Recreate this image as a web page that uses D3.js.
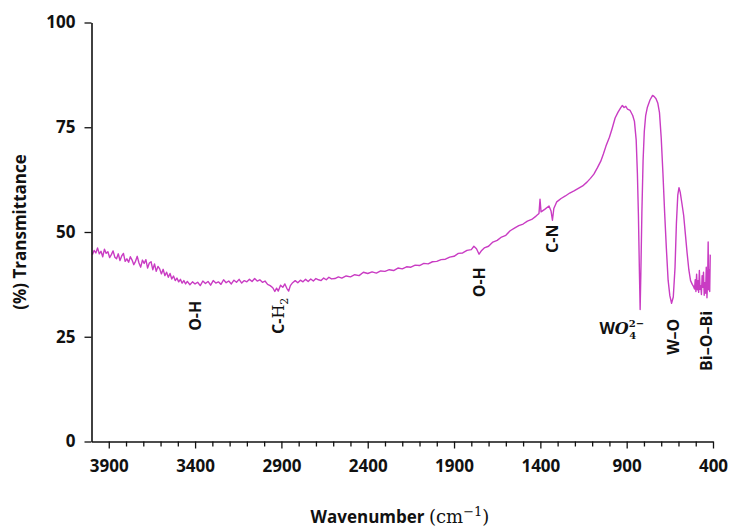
<!DOCTYPE html>
<html>
<head>
<meta charset="utf-8">
<script src="https://cdn.jsdelivr.net/npm/d3@7"></script>
<style>
  html, body { margin: 0; padding: 0; background: #fff; }
  svg { display: block; }
  text { font-family: "Open Sans", Lato, sans-serif; font-weight: bold; fill: #111; }
</style>
</head>
<body>
<svg id="chart" width="732" height="527"></svg>
<script>
// ---- data ----
const wavenumbers = [
  3995,3985,3975,3965,3955,3945,3935,3925,3915,3905,3895,3885,3875,3865,3855,3845,3835,3825,3815,3805,
  3795,3785,3775,3765,3755,3745,3735,3725,3715,3705,3695,3685,3675,3665,3655,3645,3635,3625,3615,3605,
  3595,3585,3575,3565,3555,3545,3535,3525,3515,3505,3495,3485,3475,3465,3455,3445,
  3430,3415,3400,3385,3370,3355,3340,3325,3310,3295,3280,3265,3250,3235,3220,3205,3190,3175,3160,3145,
  3130,3115,3100,3085,3070,3055,3040,3025,3010,2995,2980,2965,2950,2938,2928,2918,2905,2892,2880,2868,
  2858,2848,2835,2820,2805,2790,2775,2760,2745,2730,2715,2700,2685,2670,2655,2640,2625,2610,
  2590,2570,2550,2525,2500,2475,2450,2425,
  2400,2375,2350,2325,2300,2275,2250,2225,2200,2175,2150,2125,2100,2075,2050,2025,2000,1975,1950,1925,
  1900,1875,1850,1825,1800,1785,1770,1755,1740,1725,1700,1675,1650,1625,1600,1575,1550,1525,1500,1475,
  1450,1425,1408,1402,1396,1375,1350,1338,1330,1322,1305,1280,1255,1230,1205,1180,1155,1130,1110,1090,
  1070,1050,1035,1020,1000,985,967,950,935,925,915,905,895,880,865,855,845,838,832,826,
  822,818,812,805,798,790,780,765,750,740,730,720,710,700,690,680,670,660,650,640,
  630,620,612,604,597,590,580,570,560,550,540,530,520,513,
  507,503,499,495,491,487,483,479,475,471,467,463,459,455,451,447,443,439,435,431,
  428,425,422,419,416
];
const transmittance = [
  44.6,45.6,45.0,46.2,44.8,45.4,44.1,45.9,44.9,45.3,43.9,44.6,45.5,44.0,43.6,44.8,43.2,44.3,44.9,43.0,
  43.6,42.8,44.1,43.3,42.2,43.0,44.2,42.6,41.6,43.3,42.5,43.4,41.4,42.6,42.9,41.0,42.4,40.6,41.8,41.2,
  40.0,41.1,39.6,40.4,39.2,40.1,38.8,39.5,38.4,39.0,38.1,38.7,37.8,38.4,37.6,38.2,
  37.4,38.1,37.6,38.0,37.2,38.3,37.7,38.2,37.3,38.4,37.8,38.1,37.5,38.6,37.9,38.3,37.6,38.5,38.0,38.7,
  37.8,38.4,38.1,38.7,38.2,38.9,38.3,38.6,38.0,38.3,37.5,37.2,36.7,35.8,36.6,35.9,37.3,36.8,37.6,36.5,
  35.9,37.2,37.9,38.4,37.9,38.5,38.1,38.7,38.2,38.8,38.3,38.9,38.6,38.4,39.0,38.6,39.2,38.8,
  38.9,39.3,39.0,39.5,39.3,39.8,39.6,40.4,
  40.1,40.5,40.2,40.7,40.6,41.0,40.8,41.4,41.2,41.7,41.6,42.1,42.0,42.5,42.4,42.9,43.0,43.4,43.5,44.0,
  44.2,44.9,45.0,45.6,45.8,46.6,46.0,44.7,45.6,46.2,46.6,47.6,48.0,48.8,49.2,50.3,50.9,51.5,51.9,52.6,
  53.0,53.8,54.4,57.8,54.8,55.4,56.2,55.0,52.8,55.6,57.2,58.0,58.6,59.3,59.8,60.4,61.0,61.9,62.8,63.8,
  65.3,66.9,68.6,70.5,72.6,74.6,77.2,78.6,79.6,80.2,79.7,80.0,79.3,79.0,77.8,76.4,72.0,64.0,54.0,40.0,
  31.5,40.0,54.5,67.0,74.0,77.8,79.8,81.5,82.6,82.3,81.8,80.8,78.5,72.5,64.0,54.5,46.0,38.5,34.8,33.0,
  34.5,41.5,52.0,58.8,60.6,59.5,56.8,54.0,49.5,45.0,41.0,38.4,37.5,37.0,
  36.4,38.6,35.8,39.9,36.2,38.4,35.6,40.8,36.3,37.2,35.1,39.6,36.8,40.4,34.9,37.9,35.4,41.6,34.3,38.8,
  47.6,36.2,41.0,35.8,44.6
];
const xMajorTicks = [3900, 3400, 2900, 2400, 1900, 1400, 900, 400];
const xMinorTicks = [3800,3700,3600,3500,3300,3200,3100,3000,2800,2700,2600,2500,2300,2200,2100,2000,
                     1800,1700,1600,1500,1300,1200,1100,1000,800,700,600,500];
const yTicks = [0, 25, 50, 75, 100];
// band annotations: position in data units of the label anchor
const bandLabels = [
  { id: "OH1", w: 3400, t: 30.0 },
  { id: "CH2", w: 2915, t: 30.0 },
  { id: "OH2", w: 1755, t: 38.0 },
  { id: "CN",  w: 1330, t: 48.4 },
  { id: "WO4", w: 1058, t: 27.0 },
  { id: "WO",  w: 632,  t: 25.0 },
  { id: "BiOBi", w: 440, t: 24.0 }
];

// ---- drawing ----
const svg = d3.select("#chart");
const x = d3.scaleLinear().domain([4000, 400]).range([91.5, 713]);
const y = d3.scaleLinear().domain([0, 100]).range([441.5, 22.5]);

const data = wavenumbers.map((w, i) => [w, transmittance[i]]);

// spectrum line
svg.append("path")
  .datum(data)
  .attr("fill", "none")
  .attr("stroke", "#c93cc3")
  .attr("stroke-width", 1.4)
  .attr("stroke-linejoin", "round")
  .attr("d", d3.line().x(d => x(d[0])).y(d => y(d[1])));

const tickFont = "Lato, sans-serif";

// x axis minor ticks
const xMinor = svg.append("g").attr("transform", `translate(0,${y(0)})`)
  .call(d3.axisBottom(x).tickValues(xMinorTicks).tickSize(5).tickFormat(""));
xMinor.select(".domain").remove();
xMinor.selectAll("line").attr("stroke", "#111").attr("stroke-width", 1.3);

// x axis major
const xAxis = svg.append("g").attr("transform", `translate(0,${y(0)})`)
  .call(d3.axisBottom(x).tickValues(xMajorTicks).tickSize(7).tickSizeOuter(0).tickPadding(11).tickFormat(d3.format("d")));
xAxis.select(".domain").attr("stroke", "#111").attr("stroke-width", 1.6);
xAxis.selectAll("line").attr("stroke", "#111").attr("stroke-width", 1.3);
xAxis.selectAll("text").attr("font-size", 17).attr("font-family", tickFont).attr("font-weight", "bold").attr("fill", "#111");

// y axis
const yAxis = svg.append("g").attr("transform", `translate(${x(4000)},0)`)
  .call(d3.axisLeft(y).tickValues(yTicks).tickSize(7).tickSizeOuter(0).tickPadding(9));
yAxis.select(".domain").attr("stroke", "#111").attr("stroke-width", 1.6);
yAxis.selectAll("line").attr("stroke", "#111").attr("stroke-width", 1.3);
yAxis.selectAll("text").attr("font-size", 17).attr("font-family", tickFont).attr("font-weight", "bold").attr("fill", "#111");

// axis titles
svg.append("text")
  .attr("transform", `translate(26,${(y(0) + y(100)) / 2}) rotate(-90)`)
  .attr("text-anchor", "middle")
  .attr("font-size", 17)
  .text("(%) Transmittance");

const xt = svg.append("text")
  .attr("x", 400).attr("y", 523)
  .attr("text-anchor", "middle")
  .attr("font-size", 17);
xt.append("tspan").text("Wavenumber ");
xt.append("tspan").attr("font-family", "'DejaVu Serif', serif").attr("font-weight", "normal").attr("font-size", 18).text("(cm");
xt.append("tspan").attr("font-family", "'DejaVu Serif', serif").attr("font-weight", "normal").attr("font-size", 13).attr("dy", -7).text("\u22121");
xt.append("tspan").attr("font-family", "'DejaVu Serif', serif").attr("font-weight", "normal").attr("font-size", 18).attr("dy", 7).text(")");

// band annotations
function rotLabel(d) {
  return svg.append("text")
    .attr("transform", `translate(${x(d.w)},${y(d.t)}) rotate(-90)`)
    .attr("text-anchor", "middle")
    .attr("dy", "0.35em")
    .attr("font-family", "Lato, sans-serif")
    .attr("font-size", 16);
}
bandLabels.forEach(d => {
  if (d.id === "OH1" || d.id === "OH2") rotLabel(d).text("O-H");
  else if (d.id === "CN") rotLabel(d).text("C-N");
  else if (d.id === "WO") rotLabel(d).text("W\u2013O");
  else if (d.id === "BiOBi") rotLabel(d).text("Bi\u2013O\u2013Bi");
  else if (d.id === "CH2") {
    const t = rotLabel(d);
    t.append("tspan").text("C-");
    t.append("tspan").attr("font-family", "'DejaVu Serif', serif").attr("font-weight", "normal").text("H");
    t.append("tspan").attr("font-family", "'DejaVu Serif', serif").attr("font-weight", "normal").attr("font-size", 11).attr("dy", 4).text("2");
  } else if (d.id === "WO4") {
    const t = svg.append("text")
      .attr("x", x(d.w)).attr("y", y(d.t) + 6)
      .attr("text-anchor", "start")
      .attr("font-family", "Lato, sans-serif")
      .attr("font-size", 16);
    t.append("tspan").text("W");
    t.append("tspan").attr("font-family", "'DejaVu Serif', serif").attr("font-style", "italic").text("O");
    t.append("tspan").attr("font-family", "'DejaVu Serif', serif").attr("font-size", 10).attr("dy", -7).text("2\u2212");
    t.append("tspan").attr("font-family", "'DejaVu Serif', serif").attr("font-size", 10).attr("dx", -15).attr("dy", 12).text("4");
  }
});
</script>
</body>
</html>
